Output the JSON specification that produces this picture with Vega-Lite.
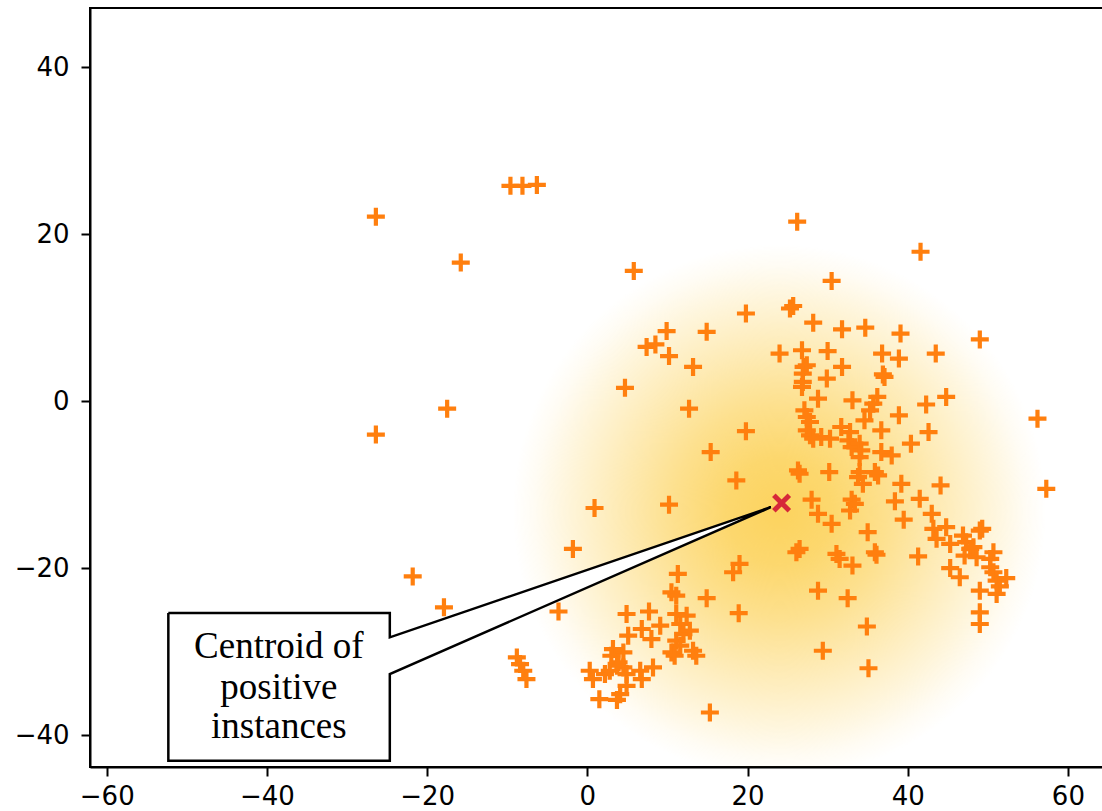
{
  "$schema": "https://vega.github.io/schema/vega-lite/v6.json",
  "width": 1013,
  "height": 759,
  "autosize": {"type": "none"},
  "padding": {"left": 90, "top": 8, "right": 0, "bottom": 44},
  "background": "white",
  "config": {
    "view": {"stroke": "black", "strokeWidth": 2},
    "axis": {
      "grid": false,
      "title": null,
      "labelFont": "DejaVu Sans",
      "labelFontSize": 26,
      "labelColor": "black",
      "tickColor": "black",
      "domainColor": "black",
      "tickWidth": 2,
      "domainWidth": 2,
      "tickSize": 9
    }
  },
  "datasets": {
    "pts": [
      {"x": -9.6, "y": 25.8}, {"x": -8.1, "y": 25.8}, {"x": -6.3, "y": 25.9}, {"x": -26.4, "y": 22.1},
      {"x": -15.8, "y": 16.6}, {"x": -26.4, "y": -4.0}, {"x": -17.5, "y": -0.9}, {"x": -21.8, "y": -21.0},
      {"x": -17.9, "y": -24.7}, {"x": -1.8, "y": -17.7}, {"x": -3.6, "y": -25.2}, {"x": 26.2, "y": 21.5},
      {"x": 41.6, "y": 17.9}, {"x": 30.5, "y": 14.4}, {"x": 56.2, "y": -2.1}, {"x": 57.3, "y": -10.5},
      {"x": 5.8, "y": 15.6}, {"x": 19.8, "y": 10.5}, {"x": 9.9, "y": 8.4}, {"x": 14.9, "y": 8.3},
      {"x": 7.4, "y": 6.5}, {"x": 8.5, "y": 6.8}, {"x": 10.2, "y": 5.4}, {"x": 13.2, "y": 4.1},
      {"x": 4.7, "y": 1.6}, {"x": 12.7, "y": -0.9}, {"x": 19.8, "y": -3.6}, {"x": 15.4, "y": -6.1},
      {"x": 18.6, "y": -9.5}, {"x": 0.9, "y": -12.8}, {"x": 10.2, "y": -12.4}, {"x": 25.3, "y": 11.1},
      {"x": 25.7, "y": 11.4}, {"x": 28.2, "y": 9.4}, {"x": 31.8, "y": 8.6}, {"x": 34.7, "y": 8.8},
      {"x": 39.1, "y": 8.1}, {"x": 49.0, "y": 7.4}, {"x": 24.0, "y": 5.7}, {"x": 26.8, "y": 6.1},
      {"x": 30.0, "y": 6.0}, {"x": 36.8, "y": 5.7}, {"x": 38.9, "y": 5.1}, {"x": 43.5, "y": 5.7},
      {"x": 27.0, "y": 4.1}, {"x": 27.4, "y": 4.3}, {"x": 26.9, "y": 3.3}, {"x": 31.8, "y": 4.1},
      {"x": 36.9, "y": 3.2}, {"x": 37.1, "y": 2.9}, {"x": 29.9, "y": 2.7}, {"x": 26.9, "y": 2.3},
      {"x": 26.8, "y": 1.7}, {"x": 28.8, "y": 0.3}, {"x": 33.1, "y": 0.1}, {"x": 36.2, "y": 0.5},
      {"x": 35.7, "y": -0.3}, {"x": 35.3, "y": -1.1}, {"x": 42.3, "y": -0.4}, {"x": 44.8, "y": 0.5},
      {"x": 27.1, "y": -1.1}, {"x": 27.4, "y": -1.9}, {"x": 27.8, "y": -2.5}, {"x": 27.4, "y": -3.5},
      {"x": 27.8, "y": -4.1}, {"x": 29.2, "y": -4.3}, {"x": 30.3, "y": -4.5}, {"x": 28.2, "y": -4.5},
      {"x": 31.7, "y": -3.1}, {"x": 32.8, "y": -3.7}, {"x": 32.6, "y": -4.7}, {"x": 33.0, "y": -5.5},
      {"x": 34.6, "y": -2.3}, {"x": 36.7, "y": -3.5}, {"x": 38.9, "y": -1.7}, {"x": 42.6, "y": -3.7},
      {"x": 40.4, "y": -5.1}, {"x": 34.0, "y": -5.1}, {"x": 34.2, "y": -5.9}, {"x": 34.0, "y": -6.7},
      {"x": 36.7, "y": -6.1}, {"x": 38.0, "y": -6.5}, {"x": 26.3, "y": -8.3}, {"x": 26.5, "y": -8.7},
      {"x": 30.2, "y": -8.5}, {"x": 34.0, "y": -8.5}, {"x": 33.8, "y": -9.1}, {"x": 34.4, "y": -9.9},
      {"x": 36.3, "y": -8.9}, {"x": 35.9, "y": -8.5}, {"x": 39.2, "y": -9.9}, {"x": 44.1, "y": -10.1},
      {"x": 28.0, "y": -11.8}, {"x": 33.0, "y": -11.8}, {"x": 38.4, "y": -12.0}, {"x": 41.5, "y": -11.7},
      {"x": 28.8, "y": -13.5}, {"x": 30.5, "y": -14.7}, {"x": 32.8, "y": -13.1}, {"x": 33.4, "y": -12.3},
      {"x": 39.5, "y": -14.2}, {"x": 43.0, "y": -13.5}, {"x": 35.0, "y": -15.7}, {"x": 43.2, "y": -15.3},
      {"x": 43.6, "y": -16.5}, {"x": 44.8, "y": -15.1}, {"x": 45.3, "y": -17.1}, {"x": 46.9, "y": -16.1},
      {"x": 47.3, "y": -16.9}, {"x": 47.8, "y": -17.7}, {"x": 47.1, "y": -18.5}, {"x": 48.2, "y": -17.5},
      {"x": 49.3, "y": -15.3}, {"x": 49.0, "y": -15.5}, {"x": 48.6, "y": -18.7}, {"x": 50.7, "y": -18.1},
      {"x": 50.3, "y": -18.9}, {"x": 50.3, "y": -19.9}, {"x": 50.7, "y": -20.5}, {"x": 52.3, "y": -21.2},
      {"x": 51.1, "y": -21.5}, {"x": 51.5, "y": -22.2}, {"x": 51.1, "y": -23.1}, {"x": 45.3, "y": -20.0},
      {"x": 46.5, "y": -21.1}, {"x": 49.0, "y": -22.7}, {"x": 49.0, "y": -25.3}, {"x": 49.0, "y": -26.7},
      {"x": 26.1, "y": -18.1}, {"x": 26.5, "y": -17.7}, {"x": 31.1, "y": -18.3}, {"x": 31.5, "y": -18.9},
      {"x": 33.1, "y": -19.7}, {"x": 36.1, "y": -18.4}, {"x": 35.9, "y": -18.1}, {"x": 41.3, "y": -18.6},
      {"x": 28.8, "y": -22.7}, {"x": 32.5, "y": -23.6}, {"x": 34.9, "y": -27.0}, {"x": 29.4, "y": -29.9},
      {"x": 35.1, "y": -32.0}, {"x": 19.0, "y": -19.5}, {"x": 18.2, "y": -20.5}, {"x": 11.3, "y": -20.7},
      {"x": 10.5, "y": -22.9}, {"x": 11.1, "y": -23.3}, {"x": 14.9, "y": -23.6}, {"x": 18.9, "y": -25.4},
      {"x": 4.9, "y": -25.5}, {"x": 7.7, "y": -25.2}, {"x": 9.1, "y": -26.9}, {"x": 6.8, "y": -27.3},
      {"x": 8.0, "y": -28.5}, {"x": 11.1, "y": -25.5}, {"x": 11.6, "y": -26.7}, {"x": 12.0, "y": -27.9},
      {"x": 11.1, "y": -28.7}, {"x": 11.6, "y": -29.3}, {"x": 12.4, "y": -25.7}, {"x": 12.8, "y": -27.5},
      {"x": 10.5, "y": -30.1}, {"x": 10.9, "y": -30.5}, {"x": 13.2, "y": -29.9}, {"x": 13.6, "y": -30.5},
      {"x": 5.1, "y": -28.1}, {"x": 4.5, "y": -30.1}, {"x": 3.2, "y": -29.7}, {"x": 3.0, "y": -30.5},
      {"x": 3.9, "y": -31.3}, {"x": 4.5, "y": -31.9}, {"x": 3.7, "y": -31.7}, {"x": 0.3, "y": -32.3},
      {"x": 0.7, "y": -33.3}, {"x": 2.2, "y": -32.7}, {"x": 6.6, "y": -32.3}, {"x": 6.8, "y": -33.3},
      {"x": 8.2, "y": -31.9}, {"x": 4.9, "y": -34.1}, {"x": 4.1, "y": -35.1}, {"x": 1.5, "y": -35.7},
      {"x": 3.7, "y": -35.8}, {"x": 15.3, "y": -37.3}, {"x": -8.8, "y": -30.7}, {"x": -8.4, "y": -31.5},
      {"x": -8.0, "y": -32.3}, {"x": -7.6, "y": -33.3}, {"x": 2.8, "y": -32.3}, {"x": 4.9, "y": -32.7}
    ],
    "ctr": [{"x": 24.25, "y": -12.2}],
    "glow": [{"x": 24.0, "y": -13.2}],
    "poly": [
      {"k": 0, "x": -52.31, "y": -25.38},
      {"k": 1, "x": -24.66, "y": -25.38},
      {"k": 2, "x": -24.66, "y": -28.3},
      {"k": 3, "x": 22.91, "y": -12.7},
      {"k": 4, "x": -24.66, "y": -32.69},
      {"k": 5, "x": -24.66, "y": -43.07},
      {"k": 6, "x": -52.31, "y": -43.07},
      {"k": 7, "x": -52.31, "y": -25.38}
    ],
    "lbl": [
      {"x": -38.51, "y": -30.73, "t": "Centroid of"},
      {"x": -38.51, "y": -35.68, "t": "positive"},
      {"x": -38.51, "y": -40.35, "t": "instances"}
    ]
  },
  "encoding": {
    "x": {"field": "x", "type": "quantitative", "scale": {"domain": [-62.09, 64.38], "nice": false, "zero": false},
          "axis": {"values": [-60, -40, -20, 0, 20, 40, 60], "labelPadding": 7}},
    "y": {"field": "y", "type": "quantitative", "scale": {"domain": [-43.83, 47.1], "nice": false, "zero": false},
          "axis": {"values": [-40, -20, 0, 20, 40], "labelPadding": 12}}
  },
  "layer": [
    {
      "data": {"name": "glow"},
      "mark": {
        "type": "point", "shape": "circle", "filled": true, "size": 285000, "opacity": 1, "clip": true,
        "strokeWidth": 0,
        "color": {
          "gradient": "radial", "x1": 0.5, "y1": 0.5, "r1": 0, "x2": 0.5, "y2": 0.5, "r2": 0.5,
          "stops": [
            {"offset": 0, "color": "rgba(252,211,94,1)"},
            {"offset": 0.2, "color": "rgba(252,211,94,0.9)"},
            {"offset": 0.4, "color": "rgba(252,211,94,0.7)"},
            {"offset": 0.6, "color": "rgba(252,211,94,0.46)"},
            {"offset": 0.8, "color": "rgba(252,211,94,0.22)"},
            {"offset": 0.92, "color": "rgba(252,211,94,0.07)"},
            {"offset": 1, "color": "rgba(252,211,94,0)"}
          ]
        }
      }
    },
    {
      "data": {"name": "pts"},
      "mark": {"type": "point", "shape": "M-1,0H1M0,-1V1", "filled": false, "size": 324,
               "stroke": "#ff7f0e", "strokeWidth": 4.2, "opacity": 1, "strokeCap": "butt"}
    },
    {
      "data": {"name": "ctr"},
      "mark": {"type": "point", "shape": "M-1,-1L1,1M1,-1L-1,1", "filled": false, "size": 240,
               "stroke": "#d62839", "strokeWidth": 5, "opacity": 1}
    },
    {
      "data": {"name": "poly"},
      "mark": {"type": "line", "stroke": "black", "strokeWidth": 2.5, "fill": "white", "strokeJoin": "miter"},
      "encoding": {"order": {"field": "k", "type": "quantitative"}}
    },
    {
      "data": {"name": "lbl"},
      "mark": {"type": "text", "font": "Liberation Serif", "fontSize": 37, "align": "center",
               "baseline": "alphabetic", "color": "black"},
      "encoding": {"text": {"field": "t", "type": "nominal"}}
    }
  ]
}
